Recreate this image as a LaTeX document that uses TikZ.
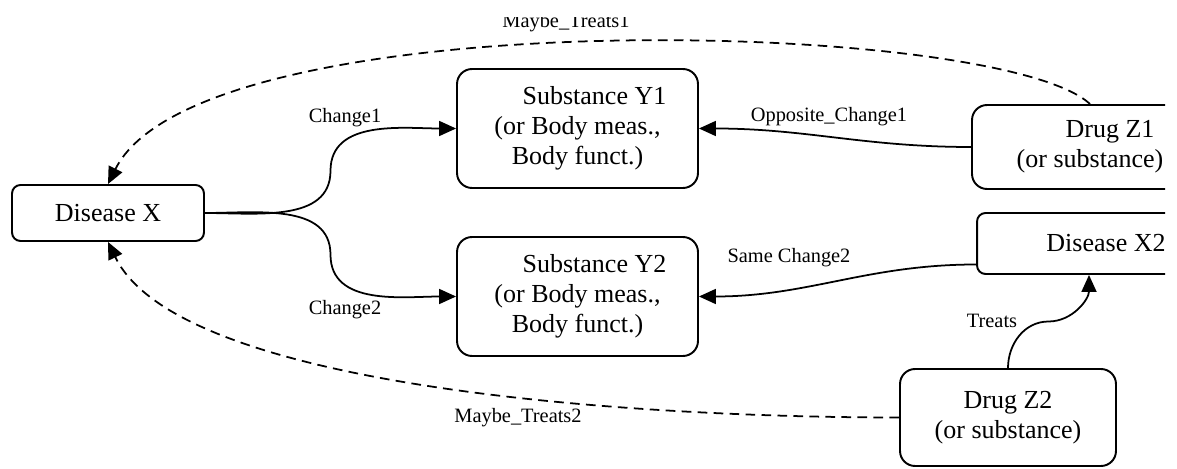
\documentclass[tikz,border=0pt]{standalone}
\usepackage{fontspec}
\setmainfont{Liberation Serif}
\usetikzlibrary{arrows.meta}
\usetikzlibrary{calc}
\tikzset{
	node_box/.style = {
		align=center,
		inner sep=0pt,
		rectangle,
		rounded corners=0.3cm,
		draw=black,
		line width=1.1pt,
		font=\fontsize{14.8}{17}\selectfont
	},
	node_box_small/.style = {
		node_box,
		rounded corners=0.17cm
	},
	node_subst/.style = {
		node_box,
		minimum width=4.82cm,
		minimum height=2.38cm
	},
	node_lbl/.style = {
		inner sep=0pt,
		font=\fontsize{11.6}{13}\selectfont
	},
	edge_line/.style = {
		->,
		line width=1pt
	},
	edge_dash/.style = {
		edge_line,
		dash pattern=on 5.5pt off 3.6pt
	},
}

\begin{document}
\begin{tikzpicture}[>={Triangle[length=0.34cm,width=0.3cm]}, x=0.02cm, y=-0.02cm]
\useasboundingbox (0,0) rectangle (1177,469);
\begin{scope}
\clip (0,18) rectangle (1165,469);
% boxes
\node [node_box_small, minimum width=3.84cm, minimum height=1.12cm] (dx) at (108,213) {Disease X};
\node [node_subst] (y1) at (577.5,128.5) {\hspace*{0.68cm}Substance Y1\\(or Body meas.,\\Body funct.)};
\node [node_subst] (y2) at (577.5,296.5) {\hspace*{0.68cm}Substance Y2\\(or Body meas.,\\Body funct.)};
\node [node_box, minimum width=4.72cm, minimum height=1.68cm] (z1) at (1090,147) {\hspace*{0.8cm}Drug Z1\\(or substance)};
\node [node_box_small, minimum width=5.16cm, minimum height=1.22cm] (x2) at (1106,243.5) {Disease X2};
\node [node_box, minimum width=4.32cm, minimum height=1.94cm] (z2) at (1008,417.5) {Drug Z2\\(or substance)};
% connectors
\draw [edge_line] (dx.east) to[out=0,in=-90] ($(dx.east)!0.5!(y1.west)$) to[out=90,in=180] (y1.west);
\draw [edge_line] (dx.east) to[out=0,in=90] ($(dx.east)!0.5!(y2.west)$) to[out=-90,in=180] (y2.west);
\draw [edge_line] (z1.west) to[out=180,in=0] (y1.east);
\draw [edge_line] ([yshift=-0.42cm]x2.west) to[out=180,in=0] (y2.east);
\draw [edge_line] (z2.north) to[out=90,in=180] ($(z2.north)!0.5!([xshift=-0.34cm]x2.south)$) to[out=0,in=-90] ([xshift=-0.34cm]x2.south);
\draw [edge_dash] (z1.north) .. controls +(-91,-85) and +(92,-185) .. (dx.north);
\draw [edge_dash] (z2.west) .. controls +(-250,0) and +(72,149) .. (dx.south);
% labels
\node [node_lbl] (lbl_c1) at (345,118) {Change1};
\node [node_lbl] (lbl_c2) at (345,310) {Change2};
\node [node_lbl] (lbl_oc1) at (829,117) {Opposite\_Change1};
\node [node_lbl] (lbl_sc2) at (789,258) {Same Change2};
\node [node_lbl] (lbl_tr) at (992,321) {Treats};
\node [node_lbl, anchor=base] (lbl_mt1) at (566,28) {Maybe\_Treats1};
\node [node_lbl] (lbl_mt2) at (518,418) {Maybe\_Treats2};
\end{scope}
\end{tikzpicture}
\end{document}
